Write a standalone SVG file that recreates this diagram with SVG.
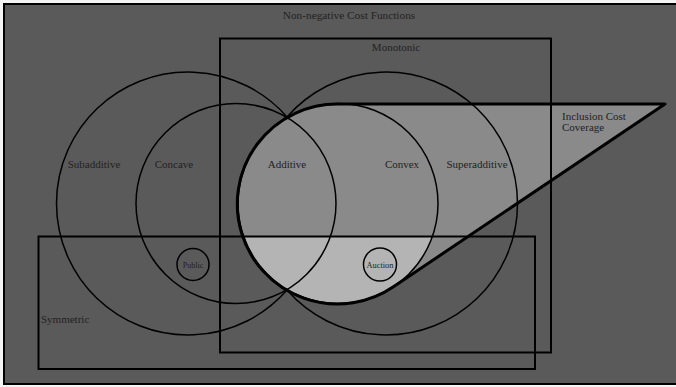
<svg xmlns="http://www.w3.org/2000/svg" width="676" height="387" viewBox="0 0 676 387">
<style>
.t{font-family:"Liberation Serif","DejaVu Serif",serif;fill:#222;font-size:11px}
.thin{fill:none;stroke:#000;stroke-width:1.5}
.rect{fill:none;stroke:#000;stroke-width:2}
.thick{fill:none;stroke:#000;stroke-width:3;stroke-linejoin:round}
</style>
<defs>
<clipPath id="convClip"><circle cx="338" cy="203.5" r="100"/></clipPath>
</defs>
<rect x="0" y="0" width="676" height="387" fill="#f4f4f4"/>
<g id="nonnegative">
<rect x="4" y="4" width="676" height="380" fill="#5a5a5a" stroke="#000" stroke-width="2"/>
<text class="t" x="349" y="19" text-anchor="middle" style="font-size:11.3px">Non-negative Cost Functions</text>
</g>
<g id="inclusion-cost-coverage">
<path d="M338,104 L665,104 L393.8,286.5 A100,100 0 1 1 338,104 Z" fill="#8a8a8a"/>
<rect x="230" y="237" width="220" height="80" fill="#b4b4b4" clip-path="url(#convClip)"/>
<text class="t" x="562" y="120">Inclusion Cost</text>
<text class="t" x="562" y="131">Coverage</text>
</g>
<g id="subadditive">
<path class="thin" d="M287,116.95 A131.5,131.5 0 1 0 287,290.05"/>
<text class="t" x="94" y="168" text-anchor="middle">Subadditive</text>
</g>
<g id="superadditive">
<path class="thin" d="M287,116.95 A131.5,131.5 0 1 1 287,290.05"/>
<text class="t" x="477" y="168" text-anchor="middle">Superadditive</text>
</g>
<g id="concave">
<circle class="thin" cx="236" cy="203.5" r="100"/>
<text class="t" x="174" y="168" text-anchor="middle">Concave</text>
</g>
<g id="convex">
<circle class="thin" cx="338" cy="203.5" r="100"/>
<text class="t" x="402" y="168" text-anchor="middle">Convex</text>
</g>
<g id="additive">
<text class="t" x="287" y="168" text-anchor="middle">Additive</text>
</g>
<g id="monotonic">
<rect class="rect" x="220" y="38.5" width="331" height="314"/>
<text class="t" x="396" y="51" text-anchor="middle">Monotonic</text>
</g>
<g id="symmetric">
<rect class="rect" x="38.5" y="236.5" width="496.5" height="132.5"/>
<text class="t" x="41" y="323">Symmetric</text>
</g>
<g id="public">
<circle class="thin" cx="193" cy="264.5" r="16"/>
<text class="t" x="193" y="267.5" text-anchor="middle" style="font-size:8px">Public</text>
</g>
<g id="auction">
<circle class="thin" cx="380" cy="264.5" r="16.5"/>
<text class="t" x="380" y="267.5" text-anchor="middle" style="font-size:8.4px">Auction</text>
</g>
<g id="connectors">
<path class="thick" d="M338,104 L665,104 L393.8,286.5 A100,100 0 1 1 338,104 Z"/>
</g>
</svg>
